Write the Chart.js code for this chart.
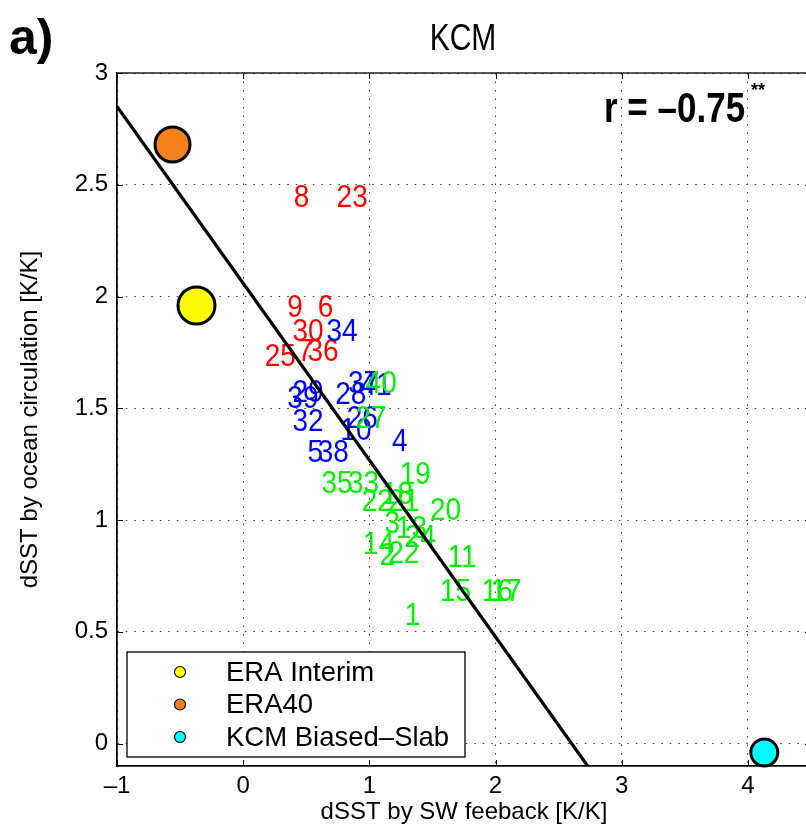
<!DOCTYPE html>
<html>
<head>
<meta charset="utf-8">
<script src="https://cdn.jsdelivr.net/npm/chart.js@4.4.0/dist/chart.umd.min.js"></script>
<style>
html, body { margin: 0; padding: 0; background: #fff; overflow: hidden; }
#wrap { position: absolute; left: 0; top: 0; width: 815px; height: 832px; }
</style>
</head>
<body>
<div id="wrap"><canvas id="chart" width="815" height="832"></canvas></div>
<script>
// --- DATA ---
const xTicks = [-1, 0, 1, 2, 3, 4];
const yTicks = [0, 0.5, 1, 1.5, 2, 2.5, 3];

// model numbers, red group
const redNames = ['8', '23', '9', '6', '30', '25', '7', '36'];
const redX = [0.40, 0.74, 0.35, 0.59, 0.39, 0.17, 0.43, 0.51];
const redY = [2.44, 2.44, 1.95, 1.95, 1.84, 1.73, 1.75, 1.75];

// blue group
const blueNames = ['34', '37', '41', '28', '29', '39', '32', '26', '10', '4', '5', '38'];
const blueX = [0.66, 0.83, 0.93, 0.73, 0.39, 0.35, 0.39, 0.82, 0.77, 1.18, 0.51, 0.59];
const blueY = [1.84, 1.61, 1.60, 1.56, 1.57, 1.54, 1.44, 1.45, 1.40, 1.35, 1.30, 1.30];

// green group
const greenNames = ['40', '27', '19', '35', '33', '22', '18', '21', '20', '3', '13', '24', '14', '2', '22', '11', '15', '16', '17', '1'];
const greenX = [0.97, 0.89, 1.24, 0.62, 0.83, 0.94, 1.10, 1.15, 1.48, 1.12, 1.21, 1.28, 0.95, 1.08, 1.15, 1.62, 1.56, 1.89, 1.96, 1.28];
const greenY = [1.61, 1.45, 1.20, 1.16, 1.16, 1.08, 1.11, 1.08, 1.04, 0.98, 0.96, 0.92, 0.89, 0.84, 0.85, 0.83, 0.68, 0.68, 0.68, 0.57];

// reference points
const refNames = ['ERA Interim', 'ERA40', 'KCM Biased\u2013Slab'];
const refX = [-0.37, -0.56, 4.13];
const refY = [1.96, 2.68, -0.04];
const refColors = ['#ffff00', '#f7801f', '#00ffff'];
const refSizes = [18.5, 17.5, 13.5];

// regression line end points
const fitX = [-1, 2.73];
const fitY = [2.85, -0.1];

const FONT = '"Liberation Sans", Arial, Helvetica, sans-serif';
Chart.defaults.font.family = FONT;
Chart.defaults.color = '#000';

const labelGroups = [
    { names: redNames, xs: redX, ys: redY, color: '#ff0000' },
    { names: blueNames, xs: blueX, ys: blueY, color: '#0000ff' },
    { names: greenNames, xs: greenX, ys: greenY, color: '#00f000' }
];

// draws text stretched vertically (the original uses a tall, narrow face)
function tallText(ctx, str, x, y, font, vscale, align) {
    ctx.save();
    ctx.translate(x, y);
    ctx.scale(1, vscale);
    ctx.font = font;
    ctx.textAlign = align || 'left';
    ctx.textBaseline = 'middle';
    ctx.fillText(str, 0, 0);
    ctx.restore();
}

// --- PLUGINS ---
const modelLabels = {
    id: 'modelLabels',
    beforeDatasetsDraw(chart) {
        const { ctx, scales: { x, y } } = chart;
        labelGroups.forEach(g => {
            ctx.fillStyle = g.color;
            g.names.forEach((n, i) => {
                tallText(ctx, n, x.getPixelForValue(g.xs[i]), y.getPixelForValue(g.ys[i]), '28px ' + FONT, 1.15);
            });
        });
    }
};

const frame = {
    id: 'frame',
    afterDatasetsDraw(chart) {
        const { ctx, chartArea: a, scales: { x, y } } = chart;
        ctx.save();
        ctx.strokeStyle = '#000';
        ctx.lineWidth = 1.3;
        ctx.strokeRect(a.left, a.top, a.right - a.left, a.bottom - a.top);
        // inward tick marks
        ctx.lineWidth = 1;
        ctx.beginPath();
        xTicks.forEach(v => {
            const px = Math.round(x.getPixelForValue(v)) + 0.5;
            ctx.moveTo(px, a.bottom); ctx.lineTo(px, a.bottom - 6);
            ctx.moveTo(px, a.top); ctx.lineTo(px, a.top + 6);
        });
        yTicks.forEach(v => {
            const py = Math.round(y.getPixelForValue(v)) + 0.5;
            ctx.moveTo(a.left, py); ctx.lineTo(a.left + 6, py);
            ctx.moveTo(a.right, py); ctx.lineTo(a.right - 6, py);
        });
        ctx.stroke();
        ctx.restore();
    },
    afterDraw(chart) {
        const { ctx } = chart;
        ctx.save();
        ctx.fillStyle = '#000';
        // panel letter and title
        tallText(ctx, 'a)', 9, 40, 'bold 50px ' + FONT, 1.0);
        tallText(ctx, 'KCM', 463, 40, '30px ' + FONT, 1.2, 'center');
        // correlation
        tallText(ctx, 'r = \u20130.75', 604, 110, 'bold 35px ' + FONT, 1.2);
        tallText(ctx, '**', 751, 91, 'bold 18px ' + FONT, 1.0);

        // legend
        const lx = 127, ly = 652, lw = 338, lh = 105;
        ctx.fillStyle = '#fff';
        ctx.fillRect(lx, ly, lw, lh);
        ctx.strokeStyle = '#000';
        ctx.lineWidth = 1.3;
        ctx.strokeRect(lx, ly, lw, lh);
        refNames.forEach((n, i) => {
            const cy = 672 + i * 32.5;
            ctx.beginPath();
            ctx.arc(180, cy, 5.5, 0, Math.PI * 2);
            ctx.fillStyle = refColors[i];
            ctx.fill();
            ctx.lineWidth = 1.2;
            ctx.strokeStyle = '#000';
            ctx.stroke();
            ctx.fillStyle = '#000';
            tallText(ctx, n, 226, cy + 1, '27.5px ' + FONT, 1.0);
        });
        ctx.restore();
    }
};

// --- CHART ---
const refSets = refNames.map((n, i) => ({
    type: 'scatter',
    label: n,
    data: [{ x: refX[i], y: refY[i] }],
    backgroundColor: refColors[i],
    borderColor: '#000',
    borderWidth: 3,
    pointRadius: refSizes[i],
    clip: false,
    order: 0
}));

const tickFont = { size: 24 };

new Chart(document.getElementById('chart'), {
    type: 'scatter',
    data: {
        datasets: [
            {
                type: 'line',
                label: 'fit',
                data: fitX.map((v, i) => ({ x: v, y: fitY[i] })),
                borderColor: '#000',
                borderWidth: 3.2,
                pointRadius: 0,
                fill: false,
                order: 1
            },
            ...refSets
        ]
    },
    options: {
        responsive: false,
        animation: false,
        devicePixelRatio: 1,
        layout: { autoPadding: false, padding: { left: 0, top: 73, right: 4, bottom: 0 } },
        plugins: { legend: { display: false }, tooltip: { enabled: false } },
        scales: {
            x: {
                type: 'linear',
                min: -1, max: 4.5,
                afterBuildTicks: s => { s.ticks = xTicks.map(v => ({ value: v })); },
                afterFit: s => { s.height = 66; },
                ticks: {
                    font: tickFont, padding: 6, maxRotation: 0,
                    callback: v => String(v).replace('-', '\u2013')
                },
                grid: { color: '#333', lineWidth: 1, drawTicks: false },
                border: { display: true, color: '#000', width: 1.3, dash: [1.5, 7] },
                title: {
                    display: true, text: 'dSST by SW feeback [K/K]',
                    font: { size: 24 }, padding: { top: 0, bottom: 5 }
                }
            },
            y: {
                type: 'linear',
                min: -0.1, max: 3,
                afterBuildTicks: s => { s.ticks = yTicks.map(v => ({ value: v })); },
                afterFit: s => { s.width = 117; },
                ticks: { font: tickFont, padding: 9, callback: v => String(v) },
                grid: { color: '#333', lineWidth: 1, drawTicks: false },
                border: { display: true, color: '#000', width: 1.3, dash: [1.5, 7] },
                title: {
                    display: true, text: 'dSST by ocean circulation [K/K]',
                    font: { size: 24 }, padding: { top: 16, bottom: 0 }
                }
            }
        }
    },
    plugins: [modelLabels, frame]
});
</script>
</body>
</html>
